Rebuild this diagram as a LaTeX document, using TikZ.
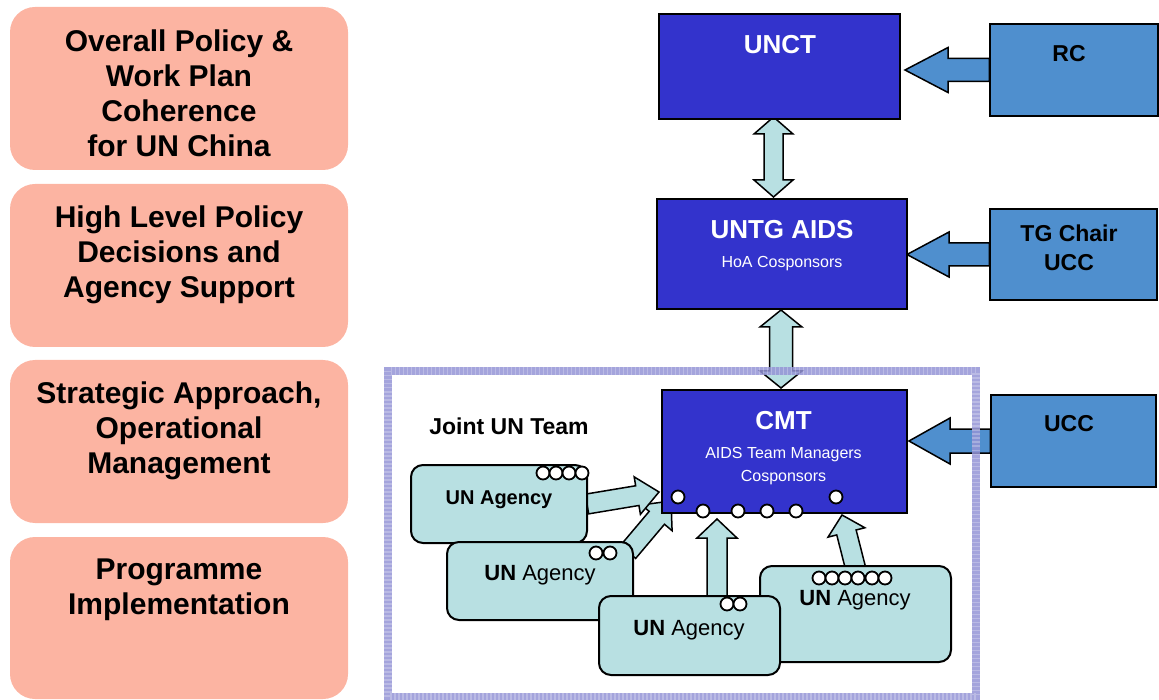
\documentclass[tikz,border=0pt]{standalone}
\usepackage{fontspec}
\setmainfont{Liberation Sans}
\usetikzlibrary{calc}
\definecolor{salmon}{HTML}{FCB4A2}
\definecolor{darkb}{HTML}{3333CC}
\definecolor{steel}{HTML}{4F8FCE}
\definecolor{pale}{HTML}{B8E0E2}
\definecolor{framec}{HTML}{9494D6}
\newcommand{\blockarr}[6]{%
  \coordinate (hb) at ($(#3)!#6!(#2)$);
  \draw[#1] ($(#2)!#4!90:(#3)$) -- ($(hb)!#4!90:(#3)$) -- ($(hb)!#5!90:(#3)$) -- (#3)
    -- ($(hb)!#5!-90:(#3)$) -- ($(hb)!#4!-90:(#3)$) -- ($(#2)!#4!-90:(#3)$) -- cycle;}
\newcommand{\dblarr}[6]{%
  \coordinate (hbA) at ($(#2)!#6!(#3)$);
  \coordinate (hbB) at ($(#3)!#6!(#2)$);
  \draw[#1] (#2) -- ($(hbA)!#5!90:(#3)$) -- ($(hbA)!#4!90:(#3)$) -- ($(hbB)!#4!90:(#3)$)
    -- ($(hbB)!#5!90:(#3)$) -- (#3) -- ($(hbB)!#5!-90:(#3)$) -- ($(hbB)!#4!-90:(#3)$)
    -- ($(hbA)!#4!-90:(#3)$) -- ($(hbA)!#5!-90:(#3)$) -- cycle;}
\begin{document}
\begin{tikzpicture}[x=1pt,y=-1pt,
  salbox/.style={fill=salmon, rounded corners=25pt, inner sep=0pt},
  saltext/.style={align=center, font=\fontsize{30}{35}\selectfont\bfseries},
  darkbox/.style={draw=black, fill=darkb, line width=1.5pt, inner sep=0pt},
  steelbox/.style={draw=black, fill=steel, line width=1.5pt, inner sep=0pt},
  agbox/.style={draw=black, fill=pale, line width=2pt, rounded corners=12pt, inner sep=0pt},
  dot/.style={circle, draw=black, fill=white, line width=1.8pt, minimum size=13pt, inner sep=0pt},
  whtbig/.style={text=white, font=\fontsize{26}{30}\selectfont\bfseries},
  whtsmall/.style={text=white, font=\fontsize{16}{19}\selectfont},
  blktext/.style={text=black, align=center, font=\fontsize{23}{29}\selectfont\bfseries},
  agtext/.style={font=\fontsize{22}{26}\selectfont},
  steelarr/.style={draw=black, fill=steel, line width=1.5pt, line join=miter},
  palearr/.style={draw=black, fill=pale, line width=1.5pt, line join=miter}]
\useasboundingbox (0,0) rectangle (1159,700);

% left column
\node[salbox, minimum width=338pt, minimum height=163pt] (p1) at (179,88.5) {};
\node[salbox, minimum width=338pt, minimum height=163pt] (p2) at (179,265.5) {};
\node[salbox, minimum width=338pt, minimum height=163pt] (p3) at (179,441.5) {};
\node[salbox, minimum width=338pt, minimum height=162pt] (p4) at (179,618) {};
\node[saltext] (t1) at (179,93) {Overall Policy \&\\Work Plan\\Coherence\\for UN China};
\node[saltext] (t2) at (179,254.5) {High Level Policy\\Decisions and\\Agency Support};
\node[saltext] (t3) at (179,430.5) {Strategic Approach,\\Operational\\Management};
\node[saltext] (t4) at (179,590) {Programme\\Implementation};

% agency arrows (behind agencies)
\coordinate (a2s) at (628,552); \coordinate (a2t) at (671,501);
\coordinate (a1s) at (587,504); \coordinate (a1t) at (659,492);
\coordinate (a3s) at (717,600); \coordinate (a3t) at (717,519);
\coordinate (a4s) at (856,570); \coordinate (a4t) at (842,515);
\blockarr{palearr}{a2s}{a2t}{10pt}{20pt}{22pt}
\blockarr{palearr}{a1s}{a1t}{10pt}{19pt}{22pt}
\blockarr{palearr}{a3s}{a3t}{10pt}{20pt}{19pt}
\blockarr{palearr}{a4s}{a4t}{10pt}{19pt}{18pt}

% agencies
\node[agbox, minimum width=176pt, minimum height=78pt] (ag1) at (499,504) {};
\foreach \x [count=\i] in {543,556,569,582} \node[dot] (ag1d\i) at (\x,473) {};
\node[agtext, font=\fontsize{20}{24}\selectfont\bfseries] (ag1t) at (499,500) {UN Agency};

\node[agbox, minimum width=186pt, minimum height=78pt] (ag2) at (540,581) {};
\foreach \x [count=\i] in {596,610} \node[dot] (ag2d\i) at (\x,553) {};
\node[agtext] (ag2t) at (540,575) {\textbf{UN} Agency};

\node[agbox, minimum width=191pt, minimum height=96pt] (ag4) at (855.5,614) {};
\foreach \x [count=\i] in {819,832,845,858,872,885} \node[dot] (ag4d\i) at (\x,578) {};
\node[agtext] (ag4t) at (855,600) {\textbf{UN} Agency};

\node[agbox, minimum width=181pt, minimum height=79pt] (ag3) at (689.5,635.5) {};
\foreach \x [count=\i] in {727,740} \node[dot] (ag3d\i) at (\x,604) {};
\node[agtext] (ag3t) at (689,630) {\textbf{UN} Agency};

\node[font=\fontsize{23}{27}\selectfont\bfseries] (jt) at (509,426) {Joint UN Team};

% right side arrows
\node[steelbox, minimum width=168pt, minimum height=92pt] (rc) at (1074,70) {};
\node[steelbox, minimum width=167pt, minimum height=91pt] (tg) at (1073.5,254.5) {};
\node[steelbox, minimum width=165pt, minimum height=92pt] (ucc) at (1073.5,441) {};
\node[blktext] (rct) at (1069,54) {RC};
\node[blktext] (tgt) at (1069,247.5) {TG Chair\\UCC};
\node[blktext] (ucct) at (1069,424) {UCC};
\coordinate (rctip) at (905,70);
\coordinate (tgtip) at (907,254.5);
\coordinate (ucctip) at (909,441);
\blockarr{steelarr}{rc.west}{rctip}{11.5pt}{22.5pt}{43pt}
\blockarr{steelarr}{tg.west}{tgtip}{11.5pt}{22.5pt}{42pt}
\blockarr{steelarr}{ucc.west}{ucctip}{12pt}{23pt}{41pt}

% double arrows
\coordinate (d1s) at (773.5,117); \coordinate (d1t) at (773.5,197);
\coordinate (d2s) at (781,310); \coordinate (d2t) at (781,388);
\dblarr{palearr}{d1s}{d1t}{9.5pt}{19.5pt}{17pt}
\dblarr{palearr}{d2s}{d2t}{11.5pt}{21pt}{17pt}

% dark boxes
\node[darkbox, minimum width=241pt, minimum height=105pt] (unct) at (779.5,66.5) {};
\node[whtbig] (unctt) at (780,45) {UNCT};
\node[darkbox, minimum width=250pt, minimum height=110pt] (untg) at (782,254) {};
\node[whtbig] (untgt) at (782,230) {UNTG AIDS};
\node[whtsmall] (untgs) at (782,264) {HoA Cosponsors};
\node[darkbox, minimum width=245pt, minimum height=123pt] (cmt) at (784.5,451.5) {};
\node[whtbig] (cmtt) at (783.5,421) {CMT};
\node[whtsmall] (cmts1) at (783.5,455) {AIDS Team Managers};
\node[whtsmall] (cmts2) at (783.5,478) {Cosponsors};
\node[dot] (c1) at (678,497) {};
\node[dot] (c2) at (836,497) {};
\foreach \x [count=\i] in {703,738,767,796} \node[dot] (cb\i) at (\x,511) {};

% frame
\draw[framec, line width=8pt, opacity=0.85] (388,371) rectangle (976,697);
\draw[white, line width=8pt, opacity=0.25, dash pattern=on 1.5pt off 2.5pt] (388,371) rectangle (976,697);
\end{tikzpicture}
\end{document}
